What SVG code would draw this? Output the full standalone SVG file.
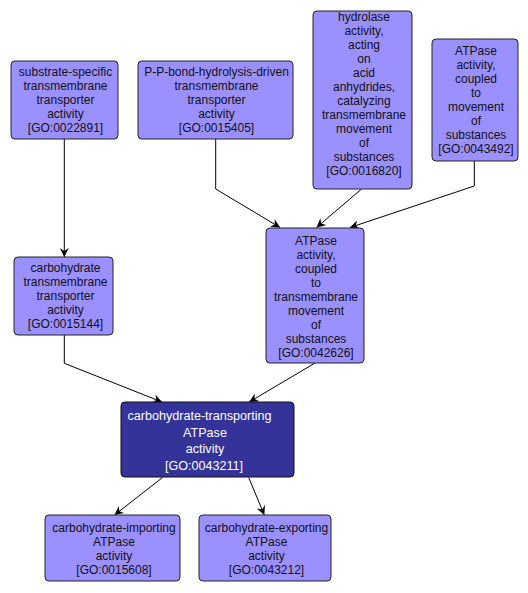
<svg xmlns="http://www.w3.org/2000/svg" width="528" height="593" viewBox="0 0 528 593">
<style>
.n rect{fill:#9b90ff;stroke:#222;stroke-width:1}
.n text{font-family:"Liberation Sans",Arial,sans-serif;font-size:12px;fill:#111;text-anchor:middle}
.d rect{fill:#333399;stroke:#111;stroke-width:1}
.d text{font-family:"Liberation Sans",Arial,sans-serif;font-size:12.6px;fill:#fff;text-anchor:middle}
.e path{fill:none;stroke:#000;stroke-width:1}
</style>
<defs>
<marker id="a" viewBox="0 0 9 9" refX="9" refY="4.5" markerWidth="9" markerHeight="9" markerUnits="userSpaceOnUse" orient="auto">
<path d="M0,0 L9,4.5 L0,9 L3,4.5 z" fill="#000"/>
</marker>
</defs>
<rect width="528" height="593" fill="#fff"/>
<g id="edges" class="e">
<path d="M64.3,139 L64.3,257" marker-end="url(#a)"/>
<path d="M215.7,139 L215.7,189 L280,227.5" marker-end="url(#a)"/>
<path d="M361.5,189 L316.5,227.5" marker-end="url(#a)"/>
<path d="M474.3,161 L474.3,186 L350,227.5" marker-end="url(#a)"/>
<path d="M64.3,335 L64.3,363.3 L162,402" marker-end="url(#a)"/>
<path d="M315,363 L249.3,402" marker-end="url(#a)"/>
<path d="M162.5,477.5 L114.5,515" marker-end="url(#a)"/>
<path d="M248.7,477.5 L264.3,515" marker-end="url(#a)"/>
</g>
<g id="GO0022891" class="n">
<rect x="11" y="61" width="107" height="78" rx="4"/>
<text x="65.5" y="76">substrate-specific</text>
<text x="65.5" y="90">transmembrane</text>
<text x="65.5" y="104">transporter</text>
<text x="65.5" y="118">activity</text>
<text x="65.5" y="132">[GO:0022891]</text>
</g>
<g id="GO0015405" class="n">
<rect x="138" y="61" width="155" height="78" rx="4"/>
<text x="216.5" y="76">P-P-bond-hydrolysis-driven</text>
<text x="216.5" y="90">transmembrane</text>
<text x="216.5" y="104">transporter</text>
<text x="216.5" y="118">activity</text>
<text x="216.5" y="132">[GO:0015405]</text>
</g>
<g id="GO0016820" class="n">
<rect x="313" y="11" width="99" height="178" rx="4"/>
<text x="364" y="20.5">hydrolase</text>
<text x="364" y="34.6">activity,</text>
<text x="364" y="48.6">acting</text>
<text x="364" y="62.7">on</text>
<text x="364" y="76.8">acid</text>
<text x="364" y="90.8">anhydrides,</text>
<text x="364" y="104.9">catalyzing</text>
<text x="364" y="119">transmembrane</text>
<text x="364" y="133">movement</text>
<text x="364" y="147.1">of</text>
<text x="364" y="161.2">substances</text>
<text x="364" y="175.2">[GO:0016820]</text>
</g>
<g id="GO0043492" class="n">
<rect x="432" y="39" width="86" height="122" rx="4"/>
<text x="476" y="54.5">ATPase</text>
<text x="476" y="68.5">activity,</text>
<text x="476" y="82.5">coupled</text>
<text x="476" y="96.5">to</text>
<text x="476" y="110.5">movement</text>
<text x="476" y="124.5">of</text>
<text x="476" y="138.5">substances</text>
<text x="476" y="152.5">[GO:0043492]</text>
</g>
<g id="GO0015144" class="n">
<rect x="14" y="257" width="99" height="78" rx="4"/>
<text x="65.5" y="272">carbohydrate</text>
<text x="65.5" y="286">transmembrane</text>
<text x="65.5" y="300">transporter</text>
<text x="65.5" y="314">activity</text>
<text x="65.5" y="328">[GO:0015144]</text>
</g>
<g id="GO0042626" class="n">
<rect x="266" y="228" width="98" height="135" rx="4"/>
<text x="316" y="244.5">ATPase</text>
<text x="316" y="258.6">activity,</text>
<text x="316" y="272.7">coupled</text>
<text x="316" y="286.8">to</text>
<text x="316" y="300.9">transmembrane</text>
<text x="316" y="315">movement</text>
<text x="316" y="329.1">of</text>
<text x="316" y="343.2">substances</text>
<text x="316" y="357.3">[GO:0042626]</text>
</g>
<g id="GO0043211" class="d">
<rect x="121" y="402" width="173" height="75" rx="4"/>
<text x="199.5" y="420">carbohydrate-transporting</text>
<text x="205" y="437">ATPase</text>
<text x="205" y="453">activity</text>
<text x="204" y="470">[GO:0043211]</text>
</g>
<g id="GO0015608" class="n">
<rect x="45" y="515" width="135" height="66" rx="4"/>
<text x="114" y="531.5">carbohydrate-importing</text>
<text x="114" y="545.5">ATPase</text>
<text x="114" y="559.5">activity</text>
<text x="114" y="573.5">[GO:0015608]</text>
</g>
<g id="GO0043212" class="n">
<rect x="199" y="515" width="132" height="66" rx="4"/>
<text x="266.5" y="531.5">carbohydrate-exporting</text>
<text x="266.5" y="545.5">ATPase</text>
<text x="266.5" y="559.5">activity</text>
<text x="266.5" y="573.5">[GO:0043212]</text>
</g>
</svg>
